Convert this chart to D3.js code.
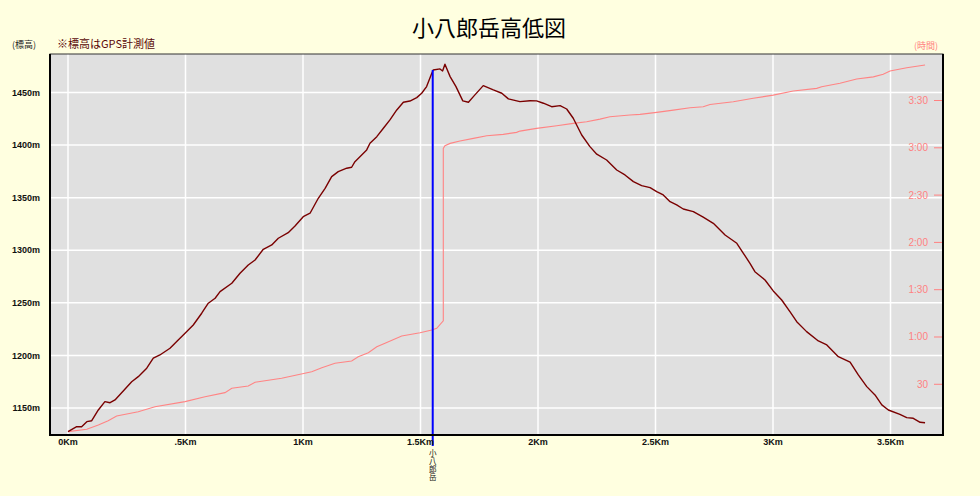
<!DOCTYPE html>
<html>
<head>
<meta charset="utf-8">
<script src="https://cdn.jsdelivr.net/npm/d3@7"></script>
<style>
  body { margin: 0; background: #ffffe0; }
  .tick-label { font-family: "Liberation Sans", Arial, sans-serif; font-size: 9px; font-weight: bold; fill: #111; }
  .time-label { font-family: "Liberation Sans", Arial, sans-serif; font-size: 10px; fill: #ff8080; }
  .jp { font-family: "Noto Sans CJK JP", sans-serif; }
</style>
</head>
<body>
<div id="chart"></div>
<script>
// elevation profile (distance km, elevation m)
const distKm = [0.00, 0.037, 0.058, 0.080, 0.101, 0.129, 0.157, 0.179, 0.200, 0.271, 0.299, 0.335, 0.363, 0.391,
  0.434, 0.469, 0.498, 0.533, 0.569, 0.597, 0.626, 0.647, 0.697, 0.732, 0.767, 0.796, 0.831, 0.867, 0.895, 0.937,
  0.966, 1.001, 1.030, 1.065, 1.094, 1.122, 1.150, 1.186, 1.207, 1.221, 1.271, 1.285, 1.314, 1.342, 1.370, 1.399,
  1.427, 1.455, 1.484, 1.505, 1.526, 1.548, 1.554, 1.583, 1.594, 1.604, 1.626, 1.651, 1.680, 1.704, 1.725, 1.767,
  1.810, 1.846, 1.874, 1.923, 1.966, 1.994, 2.023, 2.058, 2.094, 2.122, 2.150, 2.186, 2.221, 2.250, 2.292, 2.335,
  2.370, 2.406, 2.441, 2.477, 2.505, 2.533, 2.562, 2.590, 2.618, 2.661, 2.703, 2.746, 2.796, 2.846, 2.874, 2.902,
  2.923, 2.966, 3.001, 3.037, 3.072, 3.101, 3.143, 3.193, 3.229, 3.278, 3.328, 3.363, 3.399, 3.434, 3.463, 3.491,
  3.540, 3.569, 3.597, 3.626, 3.647];
const elevM = [1127.5, 1132.2, 1132.2, 1137.0, 1137.9, 1148.1, 1156.0, 1155.0, 1157.6, 1175.0, 1179.8, 1187.8, 1197.3, 1200.4,
  1206.8, 1214.7, 1221.0, 1228.9, 1240.1, 1249.6, 1254.3, 1260.6, 1268.6, 1278.1, 1286.0, 1290.7, 1300.9, 1305.0, 1311.4, 1316.7,
  1323.1, 1331.9, 1335.2, 1349.4, 1358.9, 1370.0, 1374.7, 1378.0, 1378.9, 1384.2, 1395.4, 1401.7, 1408.0, 1416.0, 1423.9, 1433.4,
  1440.7, 1441.9, 1445.1, 1449.3, 1455.6, 1468.3, 1471.4, 1472.4, 1470.5, 1476.9, 1465.1, 1455.6, 1442.0, 1440.7, 1446.1, 1456.5,
  1452.4, 1449.3, 1443.9, 1441.3, 1442.2, 1442.0, 1439.8, 1436.5, 1437.5, 1434.3, 1425.5, 1409.6, 1398.5, 1391.3, 1385.8, 1376.3,
  1371.6, 1365.2, 1361.4, 1359.5, 1355.7, 1352.6, 1346.2, 1343.1, 1339.2, 1336.7, 1331.4, 1325.6, 1314.5, 1306.6, 1297.1, 1287.6,
  1279.6, 1271.7, 1261.3, 1252.7, 1241.6, 1232.1, 1222.6, 1213.7, 1209.9, 1198.8, 1193.5, 1181.4, 1170.3, 1162.4, 1152.9, 1148.1,
  1144.0, 1140.8, 1140.2, 1136.4, 1136.0];

// elapsed time (distance km, minutes)
const timeDistKm = [0.00, 0.080, 0.129, 0.171, 0.207, 0.299, 0.370, 0.498, 0.583, 0.668, 0.697, 0.767, 0.796, 0.909,
  1.037, 1.080, 1.136, 1.207, 1.235, 1.278, 1.314, 1.349, 1.420, 1.498, 1.548, 1.569, 1.597, 1.597, 1.604, 1.626,
  1.668, 1.725, 1.782, 1.852, 1.909, 1.923, 1.994, 2.080, 2.150, 2.207, 2.264, 2.306, 2.391, 2.434, 2.505, 2.576,
  2.647, 2.703, 2.732, 2.831, 2.916, 3.001, 3.086, 3.186, 3.207, 3.285, 3.356, 3.427, 3.469, 3.498, 3.569, 3.647];
const timeMin = [0, 1.5, 4.2, 6.9, 9.9, 12.6, 15.8, 19.0, 22.1, 24.7, 27.5, 28.9, 31.3, 33.8,
  38.0, 40.5, 43.3, 44.8, 47.5, 50.0, 53.8, 56.0, 60.6, 62.7, 64.4, 65.5, 70.3, 179.6, 181.3, 182.8,
  184.3, 186.0, 187.6, 188.5, 189.8, 190.6, 192.3, 194.0, 195.5, 196.5, 198.2, 199.7, 200.8, 201.2, 202.5, 203.9,
  205.4, 206.0, 207.5, 209.2, 211.4, 213.4, 216.0, 217.7, 218.7, 220.9, 223.6, 225.0, 226.6, 228.7, 230.8, 232.5];

// ticks
const distTicks = [0, 0.5, 1, 1.5, 2, 2.5, 3, 3.5];
const distTickLabels = ['0Km', '.5Km', '1Km', '1.5Km', '2Km', '2.5Km', '3Km', '3.5Km'];
const elevTicks = [1150, 1200, 1250, 1300, 1350, 1400, 1450];
const timeTicks = [30, 60, 90, 120, 150, 180, 210];
const timeTickLabels = ['30', '1:00', '1:30', '2:00', '2:30', '3:00', '3:30'];

// summit marker
const summitName = '小八郎岳';
const summitKm = 1.552;

class ProfileChart {
    constructor(_config) {
        this.config = {
            parentElement: _config.parentElement,
            containerWidth: _config.containerWidth || 980,
            containerHeight: _config.containerHeight || 496,
            margin: _config.margin || { top: 54, right: 37, bottom: 61, left: 50 }
        }
        this.initVis();
    }

    initVis() {
        let vis = this;
        vis.width = vis.config.containerWidth - vis.config.margin.left - vis.config.margin.right;
        vis.height = vis.config.containerHeight - vis.config.margin.top - vis.config.margin.bottom;

        vis.xScale = d3.scaleLinear().domain([-0.0766, 3.7234]).range([0, vis.width]);
        vis.yScale = d3.scaleLinear().domain([1124.3, 1486.6]).range([vis.height, 0]);
        vis.tScale = d3.scaleLinear().domain([-2.16, 239.5]).range([vis.height, 0]);

        vis.svg = d3.select(vis.config.parentElement).append('svg')
            .attr('width', vis.config.containerWidth)
            .attr('height', vis.config.containerHeight);

        vis.svg.append('rect')
            .attr('width', vis.config.containerWidth)
            .attr('height', vis.config.containerHeight)
            .attr('fill', '#ffffe0');

        vis.chart = vis.svg.append('g')
            .attr('transform', `translate(${vis.config.margin.left},${vis.config.margin.top})`);

        // titles
        vis.svg.append('text')
            .attr('class', 'jp')
            .attr('x', 489).attr('y', 36)
            .attr('text-anchor', 'middle')
            .style('font-size', '22px')
            .attr('fill', '#000')
            .text('小八郎岳高低図');

        vis.svg.append('text')
            .attr('class', 'jp')
            .attr('x', 12).attr('y', 48)
            .style('font-size', '9px')
            .attr('fill', '#222')
            .text('(標高)');

        vis.svg.append('text')
            .attr('class', 'jp')
            .attr('x', 57).attr('y', 48)
            .style('font-size', '11px')
            .attr('fill', '#5a0808')
            .text('※標高はGPS計測値');

        vis.svg.append('text')
            .attr('class', 'jp')
            .attr('x', 938).attr('y', 49)
            .attr('text-anchor', 'end')
            .style('font-size', '9px')
            .attr('fill', '#ff8080')
            .text('(時間)');
    }

    updateVis() {
        let vis = this;
        vis.elevData = distKm.map((d, i) => ({ km: d, v: elevM[i] }));
        vis.timeData = timeDistKm.map((d, i) => ({ km: d, v: timeMin[i] }));

        vis.elevLine = d3.line()
            .x(d => vis.xScale(d.km))
            .y(d => vis.yScale(d.v));
        vis.timeLine = d3.line()
            .x(d => vis.xScale(d.km))
            .y(d => vis.tScale(d.v));

        // elevation at the summit marker
        vis.summitElev = d3.max(vis.elevData.filter(d => Math.abs(d.km - summitKm) < 0.004), d => d.v);

        vis.renderVis();
    }

    renderVis() {
        let vis = this;

        vis.chart.append('rect')
            .attr('width', vis.width)
            .attr('height', vis.height)
            .attr('fill', '#e0e0e0');

        // grid
        vis.chart.selectAll('.vgrid')
            .data(distTicks)
            .join('line')
            .attr('class', 'vgrid')
            .attr('x1', d => vis.xScale(d)).attr('x2', d => vis.xScale(d))
            .attr('y1', 0).attr('y2', vis.height)
            .attr('stroke', '#fff').attr('stroke-width', 1.5);

        vis.chart.selectAll('.hgrid')
            .data(elevTicks)
            .join('line')
            .attr('class', 'hgrid')
            .attr('x1', 0).attr('x2', vis.width)
            .attr('y1', d => vis.yScale(d)).attr('y2', d => vis.yScale(d))
            .attr('stroke', '#fff').attr('stroke-width', 1.5);

        // time ticks (inside, right side)
        vis.chart.selectAll('.tmark')
            .data(timeTicks)
            .join('line')
            .attr('class', 'tmark')
            .attr('x1', vis.width - 9).attr('x2', vis.width - 1)
            .attr('y1', d => vis.tScale(d)).attr('y2', d => vis.tScale(d))
            .attr('stroke', '#ff8080').attr('stroke-width', 1);

        vis.chart.selectAll('.time-label')
            .data(timeTicks)
            .join('text')
            .attr('class', 'time-label')
            .attr('x', vis.width - 15)
            .attr('y', d => vis.tScale(d))
            .attr('dy', '0.35em')
            .attr('text-anchor', 'end')
            .text((d, i) => timeTickLabels[i]);

        // lines
        vis.chart.append('path')
            .datum(vis.timeData)
            .attr('fill', 'none')
            .attr('stroke', '#ff8484')
            .attr('stroke-width', 1.1)
            .attr('d', vis.timeLine);

        vis.chart.append('path')
            .datum(vis.elevData)
            .attr('fill', 'none')
            .attr('stroke', '#7a0000')
            .attr('stroke-width', 1.4)
            .attr('stroke-linejoin', 'round')
            .attr('d', vis.elevLine);

        // summit marker
        vis.chart.append('line')
            .attr('x1', vis.xScale(summitKm)).attr('x2', vis.xScale(summitKm))
            .attr('y1', vis.yScale(vis.summitElev)).attr('y2', vis.height + 11)
            .attr('stroke', '#0000ff').attr('stroke-width', 2);

        // vertical name
        vis.chart.append('text')
            .attr('class', 'jp')
            .attr('x', vis.xScale(summitKm))
            .attr('y', vis.height + 14)
            .style('font-size', '7.5px')
            .style('writing-mode', 'vertical-rl')
            .style('text-orientation', 'upright')
            .style('letter-spacing', '0.5px')
            .attr('fill', '#111')
            .text(summitName);

        // frame
        vis.chart.append('rect')
            .attr('width', vis.width).attr('height', vis.height)
            .attr('fill', 'none').attr('stroke', '#333').attr('stroke-width', 1);
        vis.chart.append('path')
            .attr('d', `M0,0V${vis.height}H${vis.width}V0`)
            .attr('fill', 'none').attr('stroke', '#000').attr('stroke-width', 2);

        // axis labels
        vis.svg.selectAll('.x-label')
            .data(distTicks)
            .join('text')
            .attr('class', 'tick-label x-label')
            .attr('x', d => vis.config.margin.left + vis.xScale(d))
            .attr('y', vis.config.margin.top + vis.height + 10)
            .attr('text-anchor', 'middle')
            .text((d, i) => distTickLabels[i]);

        vis.svg.selectAll('.y-label')
            .data(elevTicks)
            .join('text')
            .attr('class', 'tick-label y-label')
            .attr('x', 40)
            .attr('y', d => vis.config.margin.top + vis.yScale(d))
            .attr('dy', '0.35em')
            .attr('text-anchor', 'end')
            .text(d => d + 'm');
    }
}

const chart = new ProfileChart({ parentElement: '#chart' });
chart.updateVis();
</script>
</body>
</html>
